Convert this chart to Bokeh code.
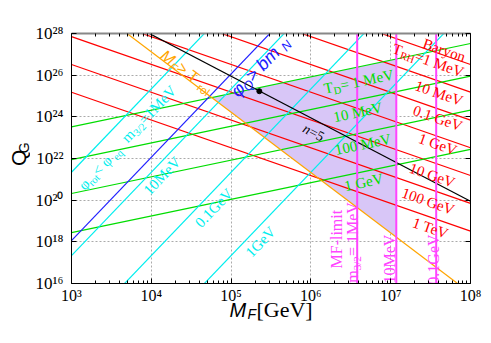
import math
from bokeh.plotting import figure
from bokeh.layouts import column, row
from bokeh.models import FixedTicker, LogAxis, CustomJSTickFormatter, Range1d
from bokeh.embed import file_html
from bokeh.resources import INLINE
from bokeh.core.properties import value

# ---------------- data (log10 values) ----------------
x_tick_exps = [3, 4, 5, 6, 7, 8]
y_tick_exps = [16, 18, 20, 22, 24, 26, 28]
logM_span = [3.0, 8.0]
logQ_span = [16.0, 28.0]

# reheating temperature lines: log10 Q_G at M_F = 1e3 GeV, slope -4/3
trh_names = ["1 MeV", "10 MeV", "0.1 GeV", "1 GeV", "10 GeV", "100 GeV", "1 TeV"]
trh_q0 = [33.18, 31.85, 30.51, 29.18, 27.85, 26.51, 25.18]
trh_slope = -4.0 / 3.0

# T_D lines: log10 Q_G at M_F = 1e3 GeV, slope 4/5
td_names = ["1 MeV", "10 MeV", "100 MeV", "1 GeV"]
td_q0 = [23.52, 21.95, 20.32, 18.44]
td_slope = 0.8

# gravitino mass lines: log10 Q_G at M_F = 1e3 GeV, slope 4
m32_names = ["1MeV", "10MeV", "0.1GeV", "1GeV"]
m32_q0 = [21.34, 17.34, 13.34, 9.34]
m32_slope = 4.0

# phi_Q > b m_N line
blue_q0 = 18.06
blue_slope = 4.0

# M_F > T_rol line: log10 M_F where it meets Q=1e28 and Q=1e16
orange_logM = [3.696, 7.838]
orange_logQ = [28.0, 16.0]

# n=5 line and marked point
black_q0 = 29.95
black_slope = -2.0
dot_logM = [5.354]
dot_logQ = [25.23]

# MF-limit vertical lines (m_3/2 = 1MeV, 10MeV, 0.1GeV)
mf_names = ["1MeV", "10MeV", "0.1GeV"]
mf_logM = [6.58, 7.07, 7.57]

# ---------------- styling ----------------
RED = "#ff0000"
GREEN = "#00dd00"
CYAN = "#00eeee"
BLUE = "#2020ff"
ORANGE = "#ffa500"
MAGENTA = "#ff44ff"
PURPLE = "#d8c6f7"
SERIF = "Liberation Serif"
SANS = "Liberation Sans"

FW, FH = 399, 250
PXX = FW / (logM_span[1] - logM_span[0])
PXY = FH / (logQ_span[1] - logQ_span[0])
YT_W = 30          # width of the strip holding the y title
MAIN_BOTTOM = 32   # bottom border of the main figure
MAIN_H = 33 + FH + MAIN_BOTTOM
XT_TOP = 301       # page y where the x-title strip starts (overlaps the border a little)
XT_H = 343 - XT_TOP
XT_SHIFT = 9       # extra upward pull of the x-title strip

p = figure(x_axis_type="log", y_axis_type="log",
           x_range=(10 ** logM_span[0], 10 ** logM_span[1]),
           y_range=(10 ** logQ_span[0], 10 ** logQ_span[1]),
           frame_width=FW, frame_height=FH,
           min_border_left=71 - YT_W, min_border_right=21, min_border_top=33,
           min_border_bottom=MAIN_BOTTOM, title=None,
           output_backend="svg", toolbar_location=None,
           background_fill_color="white", border_fill_color="white",
           outline_line_color=None)

xt = FixedTicker(ticks=[10.0 ** e for e in x_tick_exps],
                 minor_ticks=[m * 10.0 ** e for e in x_tick_exps[:-1] for m in range(2, 10)])
yt = FixedTicker(ticks=[10.0 ** e for e in y_tick_exps], minor_ticks=[])

fmt = CustomJSTickFormatter(code="""
const e = Math.round(Math.log10(tick));
const sup = ['\u2070','\u00b9','\u00b2','\u00b3','\u2074','\u2075','\u2076','\u2077','\u2078','\u2079'];
return '10' + String(e).split('').map(d => sup[parseInt(d)]).join('');
""")

for ax, tk in ((p.xaxis[0], xt), (p.yaxis[0], yt)):
    ax.ticker = tk
    ax.formatter = fmt
    ax.major_tick_in = 5
    ax.major_tick_out = 0
    ax.minor_tick_in = 3
    ax.minor_tick_out = 0
    ax.axis_line_color = "black"
    ax.major_label_text_font = SERIF
    ax.major_label_text_font_size = "17px"
    ax.major_label_text_color = "black"
p.xaxis[0].major_label_standoff = 3
p.xaxis[0].major_label_text_font_size = "16px"
p.yaxis[0].major_label_standoff = 8

top = LogAxis(ticker=xt, major_label_text_font_size="2px", major_label_text_alpha=0,
              major_label_standoff=0, major_tick_in=5, major_tick_out=0,
              minor_tick_in=3, minor_tick_out=0, axis_line_color="#888888", axis_line_width=2)
right = LogAxis(ticker=yt, major_label_text_font_size="2px", major_label_text_alpha=0,
                major_label_standoff=0, major_tick_in=5, major_tick_out=0,
                minor_tick_in=0, minor_tick_out=0, axis_line_color="black")
p.add_layout(top, "above")
p.add_layout(right, "right")

p.xgrid.ticker = xt
p.ygrid.ticker = yt
for g in (p.xgrid, p.ygrid):
    g.grid_line_color = "#aaaaaa"
    g.grid_line_dash = "2 2"
    g.grid_line_width = 1

# ---------------- allowed region (purple) ----------------
o_slope = (orange_logQ[1] - orange_logQ[0]) / (orange_logM[1] - orange_logM[0])
o_int = orange_logQ[0] - o_slope * orange_logM[0]
g_slope = td_slope
g_int = td_q0[0] - g_slope * 3.0
xm = (g_int - o_int) / (o_slope - g_slope)
x_right = mf_logM[1]
poly_lm = [xm, x_right, x_right]
poly_lq = [o_slope * xm + o_int, g_slope * (x_right - 3.0) + td_q0[0], o_slope * x_right + o_int]
p.patch([10 ** v for v in poly_lm], [10 ** v for v in poly_lq], fill_color=PURPLE, line_color=None)

def family(q0s, slope, color, width=1.2):
    xs, ys = [], []
    for q0 in q0s:
        xs.append([10 ** logM_span[0], 10 ** logM_span[1]])
        ys.append([10 ** q0, 10 ** (q0 + slope * (logM_span[1] - logM_span[0]))])
    p.multi_line(xs, ys, line_color=color, line_width=width)

family(trh_q0, trh_slope, RED)
family(td_q0, td_slope, GREEN)
family(m32_q0, m32_slope, CYAN)
family([blue_q0], blue_slope, BLUE)
family([black_q0], black_slope, "black")
p.line([10 ** v for v in orange_logM], [10 ** v for v in orange_logQ], line_color=ORANGE, line_width=1.2)
for lm in mf_logM:
    p.line([10 ** lm, 10 ** lm], [10 ** logQ_span[0], 10 ** logQ_span[1]], line_color=MAGENTA, line_width=2)
p.scatter([10 ** v for v in dot_logM], [10 ** v for v in dot_logQ], size=5, color="black")

# ---------------- rich text labels ----------------
W_SERIF = {' ': .25, '.': .25, '=': .564, '<': .564, '>': .564, '-': .333, '/': .278,
           'A': .722, 'B': .667, 'D': .722, 'F': .556, 'G': .722, 'H': .722, 'M': .889, 'N': .722,
           'Q': .722, 'R': .667, 'T': .611, 'V': .722, 'a': .444, 'b': .5, 'e': .444, 'i': .278,
           'l': .278, 'm': .778, 'n': .5, 'o': .5, 'q': .5, 'r': .333, 't': .278, 'y': .5, '\u03c6': .55}
W_SANS = {' ': .278, '>': .584, '=': .584, 'M': .833, 'F': .611, 'T': .611, 'Q': .778, 'G': .778,
          'N': .722, 'b': .556, 'm': .833, 'r': .333, 'o': .556, 'l': .222, '\u03c6': .62}

def twidth(s, fs, font):
    tab = W_SANS if font == SANS else W_SERIF
    return sum(tab.get(c, .5) for c in s) * fs

def slope_angle(s):
    return math.degrees(math.atan(s * PXY / PXX))

def rich(clm, clq, ang, parts, color, font, fs):
    """parts: (text, is_subscript, style)"""
    th = math.radians(ang)
    ux, uy = math.cos(th), -math.sin(th)
    nx, ny = math.sin(th), math.cos(th)
    items = []
    for t, sub, style in parts:
        f = fs * 0.7 if sub else fs
        items.append((t, f, 0.28 * fs if sub else 0.0, style, twidth(t, f, font)))
    W = sum(it[4] for it in items)
    sx0 = -W / 2 * ux + 0.33 * fs * nx
    sy0 = -W / 2 * uy + 0.33 * fs * ny
    adv = 0.0
    for t, f, sh, style, w in items:
        dx = sx0 + adv * ux + sh * nx
        dy = sy0 + adv * uy + sh * ny
        lm = clm + dx / PXX
        lq = clq - dy / PXY
        p.text([10 ** lm], [10 ** lq], text=[t], angle=th, text_align="left",
               text_baseline="alphabetic", text_font=value(font), text_font_size=f"{f:.1f}px",
               text_color=color, text_font_style=style)
        adv += w

N = "normal"
I = "italic"
a_red = slope_angle(trh_slope)
a_green = slope_angle(td_slope)
a_cyan = slope_angle(m32_slope)
a_orange = slope_angle(o_slope)
a_black = slope_angle(black_slope)

rich(7.69, 27.42, a_red, [("Baryon", False, N)], RED, SERIF, 15)
rich(7.49, 26.94, a_red, [("T", False, N), ("RH", True, N), ("=" + trh_names[0], False, N)], RED, SERIF, 15)
red_pos = [(7.625, 25.36), (7.61, 24.16), (7.61, 22.91), (7.54, 21.42), (7.49, 20.17), (7.525, 18.88)]
for name, (lm, lq) in zip(trh_names[1:], red_pos):
    rich(lm, lq, a_red, [(name, False, N)], RED, SERIF, 15)

rich(6.61, 25.94, a_green, [("T", False, N), ("D", True, N), (" = " + td_names[0], False, N)], GREEN, SERIF, 15)
green_pos = [(6.575, 24.45), (6.64, 22.91), (6.65, 21.09)]
for name, (lm, lq) in zip(td_names[1:], green_pos):
    rich(lm, lq, a_green, [(name, False, N)], GREEN, SERIF, 15)

rich(3.31, 21.71, a_cyan, [("\u03c6", False, N), ("rot", True, N), (" < \u03c6", False, N), ("eq", True, N)], CYAN, SERIF, 15)
rich(3.925, 24.30, a_cyan, [("m", False, N), ("3/2", True, N), ("=" + m32_names[0], False, N)], CYAN, SERIF, 15)
cyan_pos = [(4.09, 21.33), (4.74, 19.79), (5.325, 18.16)]
for name, (lm, lq) in zip(m32_names[1:], cyan_pos):
    rich(lm, lq, a_cyan, [(name, False, N)], CYAN, SERIF, 15)

rich(5.31, 26.61, a_cyan, [("\u03c6", False, I), ("Q", True, I), (" > bm", False, I), ("N", True, I)], BLUE, SANS, 18)
rich(4.485, 26.37, a_orange, [("M", False, I), ("F", True, I), (" > T", False, N), ("rol", True, N)], ORANGE, SANS, 16)
rich(6.06, 23.44, a_black, [("n", False, I), ("=5", False, N)], "black", SERIF, 14)

rich(6.256, 18.13, 90, [("MF-limit", False, N)], MAGENTA, SERIF, 16)
rich(6.456, 17.97, 90, [("m", False, N), ("3/2", True, N), ("= " + mf_names[0], False, N)], MAGENTA, SERIF, 16)
rich(6.925, 17.17, 90, [(mf_names[1], False, N)], MAGENTA, SERIF, 16)
rich(7.475, 17.15, 90, [(mf_names[2], False, N)], MAGENTA, SERIF, 16)

# ---------------- axis titles: small text-only figures beside / below ----------------
def text_strip(w, h, **kw):
    f = figure(x_range=Range1d(0, w), y_range=Range1d(0, h), width=w, height=h,
               min_border=0, x_axis_location=None, y_axis_location=None, title=None,
               output_backend="svg", toolbar_location=None, outline_line_color=None,
               sizing_mode="fixed", **kw)
    f.xgrid.visible = False
    f.ygrid.visible = False
    return f

def put(f, x, y, t, font, fs, style="normal", angle=0.0):
    f.text([x], [y], text=[t], angle=angle, text_align="left", text_baseline="alphabetic",
           text_font=value(font), text_font_size=f"{fs}px", text_font_style=style,
           text_color="black")

yfig = text_strip(YT_W, MAIN_H, background_fill_color="white", border_fill_color="white")
put(yfig, 17.5, MAIN_H - 167, "Q", SANS, 21, "normal", math.pi / 2)
put(yfig, 23.5, MAIN_H - 151, "G", SANS, 14, "normal", math.pi / 2)

xfig = text_strip(491, XT_H, background_fill_alpha=0, border_fill_alpha=0,
                  margin=(XT_TOP - MAIN_H - XT_SHIFT, 0, 0, 0))
base = XT_H - (318 - XT_TOP)
put(xfig, 229, base, "M", SANS, 20, "italic")
put(xfig, 247, base - 4, "F", SANS, 14, "italic")
put(xfig, 256, base, "[GeV]", SERIF, 22)

layout = column(row(yfig, p, sizing_mode="fixed"), xfig, sizing_mode="fixed")
open("out.html", "w").write(file_html(layout, INLINE))
